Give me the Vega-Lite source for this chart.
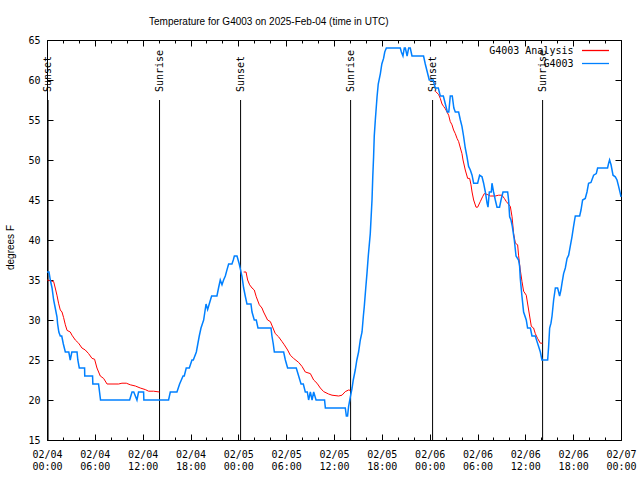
{
  "$schema": "https://vega.github.io/schema/vega-lite/v6.json",
  "width": 574,
  "height": 400,
  "autosize": "none",
  "padding": {"left": 47, "top": 40, "right": 19, "bottom": 40},
  "background": "white",
  "title": {"text": "Temperature for G4003 on 2025-Feb-04 (time in UTC)", "anchor": "start", "frame": "group", "dx": 102, "offset": 0, "font": "Liberation Sans", "fontSize": 10, "fontWeight": "normal", "color": "black", "baseline": "alphabetic"},
  "config": {
    "view": {"stroke": "black", "strokeWidth": 1},
    "axis": {"grid": false, "domain": false, "ticks": true, "tickOpacity": 1, "zindex": 1, "tickColor": "black", "tickWidth": 1, "labelColor": "black", "labelFont": "DejaVu Sans Mono", "labelFontSize": 10, "titleFont": "Liberation Sans", "titleFontSize": 10, "titleFontWeight": "normal", "titleColor": "black"}
  },
  "datasets": {
    "sun": [
      {"time": "2025-02-04T00:08:00Z", "event": "Sunset"},
      {"time": "2025-02-04T14:07:00Z", "event": "Sunrise"},
      {"time": "2025-02-05T00:17:00Z", "event": "Sunset"},
      {"time": "2025-02-05T14:05:00Z", "event": "Sunrise"},
      {"time": "2025-02-06T00:22:00Z", "event": "Sunset"},
      {"time": "2025-02-06T14:10:00Z", "event": "Sunrise"}
    ],
    "ana": [
      {"time": "2025-02-04T00:02:00Z", "temp": 35, "series": "G4003 Analysis", "seg": "n1"},
      {"time": "2025-02-04T00:50:00Z", "temp": 34.8, "series": "G4003 Analysis", "seg": "n1"},
      {"time": "2025-02-04T01:02:00Z", "temp": 34, "series": "G4003 Analysis", "seg": "n1"},
      {"time": "2025-02-04T01:15:00Z", "temp": 33.1, "series": "G4003 Analysis", "seg": "n1"},
      {"time": "2025-02-04T01:27:00Z", "temp": 32.1, "series": "G4003 Analysis", "seg": "n1"},
      {"time": "2025-02-04T01:40:00Z", "temp": 31.25, "series": "G4003 Analysis", "seg": "n1"},
      {"time": "2025-02-04T01:53:00Z", "temp": 31, "series": "G4003 Analysis", "seg": "n1"},
      {"time": "2025-02-04T02:05:00Z", "temp": 30.3, "series": "G4003 Analysis", "seg": "n1"},
      {"time": "2025-02-04T02:18:00Z", "temp": 29.4, "series": "G4003 Analysis", "seg": "n1"},
      {"time": "2025-02-04T02:31:00Z", "temp": 28.7, "series": "G4003 Analysis", "seg": "n1"},
      {"time": "2025-02-04T02:55:00Z", "temp": 28.5, "series": "G4003 Analysis", "seg": "n1"},
      {"time": "2025-02-04T03:08:00Z", "temp": 28.1, "series": "G4003 Analysis", "seg": "n1"},
      {"time": "2025-02-04T03:33:00Z", "temp": 27.5, "series": "G4003 Analysis", "seg": "n1"},
      {"time": "2025-02-04T03:58:00Z", "temp": 27.1, "series": "G4003 Analysis", "seg": "n1"},
      {"time": "2025-02-04T04:23:00Z", "temp": 26.5, "series": "G4003 Analysis", "seg": "n1"},
      {"time": "2025-02-04T04:48:00Z", "temp": 26.25, "series": "G4003 Analysis", "seg": "n1"},
      {"time": "2025-02-04T05:13:00Z", "temp": 25.8, "series": "G4003 Analysis", "seg": "n1"},
      {"time": "2025-02-04T05:39:00Z", "temp": 25.2, "series": "G4003 Analysis", "seg": "n1"},
      {"time": "2025-02-04T05:58:00Z", "temp": 25.1, "series": "G4003 Analysis", "seg": "n1"},
      {"time": "2025-02-04T06:16:00Z", "temp": 24, "series": "G4003 Analysis", "seg": "n1"},
      {"time": "2025-02-04T06:41:00Z", "temp": 23, "series": "G4003 Analysis", "seg": "n1"},
      {"time": "2025-02-04T07:06:00Z", "temp": 22.7, "series": "G4003 Analysis", "seg": "n1"},
      {"time": "2025-02-04T07:32:00Z", "temp": 22, "series": "G4003 Analysis", "seg": "n1"},
      {"time": "2025-02-04T08:59:00Z", "temp": 22, "series": "G4003 Analysis", "seg": "n1"},
      {"time": "2025-02-04T09:24:00Z", "temp": 22.1, "series": "G4003 Analysis", "seg": "n1"},
      {"time": "2025-02-04T09:57:00Z", "temp": 22.1, "series": "G4003 Analysis", "seg": "n1"},
      {"time": "2025-02-04T10:27:00Z", "temp": 21.9, "series": "G4003 Analysis", "seg": "n1"},
      {"time": "2025-02-04T11:05:00Z", "temp": 21.75, "series": "G4003 Analysis", "seg": "n1"},
      {"time": "2025-02-04T11:42:00Z", "temp": 21.5, "series": "G4003 Analysis", "seg": "n1"},
      {"time": "2025-02-04T12:20:00Z", "temp": 21.3, "series": "G4003 Analysis", "seg": "n1"},
      {"time": "2025-02-04T12:45:00Z", "temp": 21.1, "series": "G4003 Analysis", "seg": "n1"},
      {"time": "2025-02-04T13:22:00Z", "temp": 21.1, "series": "G4003 Analysis", "seg": "n1"},
      {"time": "2025-02-04T14:07:00Z", "temp": 21, "series": "G4003 Analysis", "seg": "n1"},
      {"time": "2025-02-05T00:40:00Z", "temp": 36, "series": "G4003 Analysis", "seg": "n2"},
      {"time": "2025-02-05T00:58:00Z", "temp": 36, "series": "G4003 Analysis", "seg": "n2"},
      {"time": "2025-02-05T01:10:00Z", "temp": 35, "series": "G4003 Analysis", "seg": "n2"},
      {"time": "2025-02-05T01:25:00Z", "temp": 34.4, "series": "G4003 Analysis", "seg": "n2"},
      {"time": "2025-02-05T01:43:00Z", "temp": 34, "series": "G4003 Analysis", "seg": "n2"},
      {"time": "2025-02-05T02:00:00Z", "temp": 33.75, "series": "G4003 Analysis", "seg": "n2"},
      {"time": "2025-02-05T02:15:00Z", "temp": 32.9, "series": "G4003 Analysis", "seg": "n2"},
      {"time": "2025-02-05T02:38:00Z", "temp": 31.9, "series": "G4003 Analysis", "seg": "n2"},
      {"time": "2025-02-05T02:58:00Z", "temp": 31.5, "series": "G4003 Analysis", "seg": "n2"},
      {"time": "2025-02-05T03:10:00Z", "temp": 31, "series": "G4003 Analysis", "seg": "n2"},
      {"time": "2025-02-05T03:40:00Z", "temp": 30, "series": "G4003 Analysis", "seg": "n2"},
      {"time": "2025-02-05T04:01:00Z", "temp": 29.8, "series": "G4003 Analysis", "seg": "n2"},
      {"time": "2025-02-05T04:21:00Z", "temp": 29, "series": "G4003 Analysis", "seg": "n2"},
      {"time": "2025-02-05T04:38:00Z", "temp": 28.3, "series": "G4003 Analysis", "seg": "n2"},
      {"time": "2025-02-05T05:03:00Z", "temp": 27.9, "series": "G4003 Analysis", "seg": "n2"},
      {"time": "2025-02-05T05:29:00Z", "temp": 27.3, "series": "G4003 Analysis", "seg": "n2"},
      {"time": "2025-02-05T05:46:00Z", "temp": 26.9, "series": "G4003 Analysis", "seg": "n2"},
      {"time": "2025-02-05T06:11:00Z", "temp": 26.25, "series": "G4003 Analysis", "seg": "n2"},
      {"time": "2025-02-05T06:31:00Z", "temp": 25.6, "series": "G4003 Analysis", "seg": "n2"},
      {"time": "2025-02-05T06:56:00Z", "temp": 25.2, "series": "G4003 Analysis", "seg": "n2"},
      {"time": "2025-02-05T07:34:00Z", "temp": 24.7, "series": "G4003 Analysis", "seg": "n2"},
      {"time": "2025-02-05T07:59:00Z", "temp": 24.2, "series": "G4003 Analysis", "seg": "n2"},
      {"time": "2025-02-05T08:24:00Z", "temp": 23.5, "series": "G4003 Analysis", "seg": "n2"},
      {"time": "2025-02-05T09:02:00Z", "temp": 23.3, "series": "G4003 Analysis", "seg": "n2"},
      {"time": "2025-02-05T09:27:00Z", "temp": 22.5, "series": "G4003 Analysis", "seg": "n2"},
      {"time": "2025-02-05T09:52:00Z", "temp": 22.1, "series": "G4003 Analysis", "seg": "n2"},
      {"time": "2025-02-05T10:17:00Z", "temp": 21.5, "series": "G4003 Analysis", "seg": "n2"},
      {"time": "2025-02-05T10:42:00Z", "temp": 21.05, "series": "G4003 Analysis", "seg": "n2"},
      {"time": "2025-02-05T11:19:00Z", "temp": 20.75, "series": "G4003 Analysis", "seg": "n2"},
      {"time": "2025-02-05T11:45:00Z", "temp": 20.6, "series": "G4003 Analysis", "seg": "n2"},
      {"time": "2025-02-05T12:35:00Z", "temp": 20.5, "series": "G4003 Analysis", "seg": "n2"},
      {"time": "2025-02-05T13:00:00Z", "temp": 20.6, "series": "G4003 Analysis", "seg": "n2"},
      {"time": "2025-02-05T13:25:00Z", "temp": 21.05, "series": "G4003 Analysis", "seg": "n2"},
      {"time": "2025-02-05T13:50:00Z", "temp": 21.25, "series": "G4003 Analysis", "seg": "n2"},
      {"time": "2025-02-05T14:03:00Z", "temp": 21.2, "series": "G4003 Analysis", "seg": "n2"},
      {"time": "2025-02-06T00:42:00Z", "temp": 58.6, "series": "G4003 Analysis", "seg": "n3"},
      {"time": "2025-02-06T01:07:00Z", "temp": 58.2, "series": "G4003 Analysis", "seg": "n3"},
      {"time": "2025-02-06T01:20:00Z", "temp": 57.7, "series": "G4003 Analysis", "seg": "n3"},
      {"time": "2025-02-06T01:33:00Z", "temp": 57, "series": "G4003 Analysis", "seg": "n3"},
      {"time": "2025-02-06T01:45:00Z", "temp": 56.7, "series": "G4003 Analysis", "seg": "n3"},
      {"time": "2025-02-06T01:58:00Z", "temp": 56.4, "series": "G4003 Analysis", "seg": "n3"},
      {"time": "2025-02-06T02:23:00Z", "temp": 55.6, "series": "G4003 Analysis", "seg": "n3"},
      {"time": "2025-02-06T02:35:00Z", "temp": 54.8, "series": "G4003 Analysis", "seg": "n3"},
      {"time": "2025-02-06T02:48:00Z", "temp": 54.4, "series": "G4003 Analysis", "seg": "n3"},
      {"time": "2025-02-06T03:00:00Z", "temp": 53.75, "series": "G4003 Analysis", "seg": "n3"},
      {"time": "2025-02-06T03:13:00Z", "temp": 53.3, "series": "G4003 Analysis", "seg": "n3"},
      {"time": "2025-02-06T03:26:00Z", "temp": 52.7, "series": "G4003 Analysis", "seg": "n3"},
      {"time": "2025-02-06T03:38:00Z", "temp": 52.3, "series": "G4003 Analysis", "seg": "n3"},
      {"time": "2025-02-06T03:51:00Z", "temp": 51.5, "series": "G4003 Analysis", "seg": "n3"},
      {"time": "2025-02-06T04:03:00Z", "temp": 50.8, "series": "G4003 Analysis", "seg": "n3"},
      {"time": "2025-02-06T04:11:00Z", "temp": 50, "series": "G4003 Analysis", "seg": "n3"},
      {"time": "2025-02-06T04:28:00Z", "temp": 48.75, "series": "G4003 Analysis", "seg": "n3"},
      {"time": "2025-02-06T04:46:00Z", "temp": 47.7, "series": "G4003 Analysis", "seg": "n3"},
      {"time": "2025-02-06T05:01:00Z", "temp": 47.7, "series": "G4003 Analysis", "seg": "n3"},
      {"time": "2025-02-06T05:11:00Z", "temp": 46.9, "series": "G4003 Analysis", "seg": "n3"},
      {"time": "2025-02-06T05:19:00Z", "temp": 46, "series": "G4003 Analysis", "seg": "n3"},
      {"time": "2025-02-06T05:31:00Z", "temp": 45, "series": "G4003 Analysis", "seg": "n3"},
      {"time": "2025-02-06T05:49:00Z", "temp": 44.1, "series": "G4003 Analysis", "seg": "n3"},
      {"time": "2025-02-06T06:01:00Z", "temp": 44.1, "series": "G4003 Analysis", "seg": "n3"},
      {"time": "2025-02-06T06:21:00Z", "temp": 44.8, "series": "G4003 Analysis", "seg": "n3"},
      {"time": "2025-02-06T06:38:00Z", "temp": 45.4, "series": "G4003 Analysis", "seg": "n3"},
      {"time": "2025-02-06T06:51:00Z", "temp": 45.8, "series": "G4003 Analysis", "seg": "n3"},
      {"time": "2025-02-06T07:12:00Z", "temp": 45.7, "series": "G4003 Analysis", "seg": "n3"},
      {"time": "2025-02-06T07:36:00Z", "temp": 45.5, "series": "G4003 Analysis", "seg": "n3"},
      {"time": "2025-02-06T08:14:00Z", "temp": 45.5, "series": "G4003 Analysis", "seg": "n3"},
      {"time": "2025-02-06T08:39:00Z", "temp": 45.6, "series": "G4003 Analysis", "seg": "n3"},
      {"time": "2025-02-06T09:04:00Z", "temp": 45.6, "series": "G4003 Analysis", "seg": "n3"},
      {"time": "2025-02-06T09:22:00Z", "temp": 45.2, "series": "G4003 Analysis", "seg": "n3"},
      {"time": "2025-02-06T09:37:00Z", "temp": 44.8, "series": "G4003 Analysis", "seg": "n3"},
      {"time": "2025-02-06T09:47:00Z", "temp": 44.6, "series": "G4003 Analysis", "seg": "n3"},
      {"time": "2025-02-06T10:07:00Z", "temp": 44.2, "series": "G4003 Analysis", "seg": "n3"},
      {"time": "2025-02-06T10:20:00Z", "temp": 42.9, "series": "G4003 Analysis", "seg": "n3"},
      {"time": "2025-02-06T10:32:00Z", "temp": 40.8, "series": "G4003 Analysis", "seg": "n3"},
      {"time": "2025-02-06T10:45:00Z", "temp": 39.6, "series": "G4003 Analysis", "seg": "n3"},
      {"time": "2025-02-06T11:02:00Z", "temp": 39.4, "series": "G4003 Analysis", "seg": "n3"},
      {"time": "2025-02-06T11:09:00Z", "temp": 38.1, "series": "G4003 Analysis", "seg": "n3"},
      {"time": "2025-02-06T11:22:00Z", "temp": 36.25, "series": "G4003 Analysis", "seg": "n3"},
      {"time": "2025-02-06T11:35:00Z", "temp": 34.8, "series": "G4003 Analysis", "seg": "n3"},
      {"time": "2025-02-06T11:47:00Z", "temp": 33.6, "series": "G4003 Analysis", "seg": "n3"},
      {"time": "2025-02-06T12:07:00Z", "temp": 33.1, "series": "G4003 Analysis", "seg": "n3"},
      {"time": "2025-02-06T12:25:00Z", "temp": 31.25, "series": "G4003 Analysis", "seg": "n3"},
      {"time": "2025-02-06T12:45:00Z", "temp": 29.2, "series": "G4003 Analysis", "seg": "n3"},
      {"time": "2025-02-06T13:02:00Z", "temp": 29, "series": "G4003 Analysis", "seg": "n3"},
      {"time": "2025-02-06T13:15:00Z", "temp": 28.3, "series": "G4003 Analysis", "seg": "n3"},
      {"time": "2025-02-06T13:32:00Z", "temp": 27.7, "series": "G4003 Analysis", "seg": "n3"},
      {"time": "2025-02-06T13:53:00Z", "temp": 27.1, "series": "G4003 Analysis", "seg": "n3"},
      {"time": "2025-02-06T14:10:00Z", "temp": 27.1, "series": "G4003 Analysis", "seg": "n3"}
    ],
    "obs": [
      {"time": "2025-02-04T00:00:00Z", "temp": 36, "series": "G4003"},
      {"time": "2025-02-04T00:15:00Z", "temp": 36, "series": "G4003"},
      {"time": "2025-02-04T00:25:00Z", "temp": 35, "series": "G4003"},
      {"time": "2025-02-04T00:38:00Z", "temp": 34, "series": "G4003"},
      {"time": "2025-02-04T00:50:00Z", "temp": 32.5, "series": "G4003"},
      {"time": "2025-02-04T01:02:00Z", "temp": 31.5, "series": "G4003"},
      {"time": "2025-02-04T01:15:00Z", "temp": 30.4, "series": "G4003"},
      {"time": "2025-02-04T01:20:00Z", "temp": 29.5, "series": "G4003"},
      {"time": "2025-02-04T01:29:00Z", "temp": 28.5, "series": "G4003"},
      {"time": "2025-02-04T01:40:00Z", "temp": 28, "series": "G4003"},
      {"time": "2025-02-04T01:51:00Z", "temp": 28, "series": "G4003"},
      {"time": "2025-02-04T02:03:00Z", "temp": 27, "series": "G4003"},
      {"time": "2025-02-04T02:18:00Z", "temp": 26, "series": "G4003"},
      {"time": "2025-02-04T02:44:00Z", "temp": 26, "series": "G4003"},
      {"time": "2025-02-04T02:55:00Z", "temp": 25, "series": "G4003"},
      {"time": "2025-02-04T03:07:00Z", "temp": 26, "series": "G4003"},
      {"time": "2025-02-04T03:46:00Z", "temp": 26, "series": "G4003"},
      {"time": "2025-02-04T03:52:00Z", "temp": 25, "series": "G4003"},
      {"time": "2025-02-04T04:03:00Z", "temp": 24, "series": "G4003"},
      {"time": "2025-02-04T04:43:00Z", "temp": 24, "series": "G4003"},
      {"time": "2025-02-04T04:44:00Z", "temp": 23, "series": "G4003"},
      {"time": "2025-02-04T05:43:00Z", "temp": 23, "series": "G4003"},
      {"time": "2025-02-04T05:45:00Z", "temp": 22, "series": "G4003"},
      {"time": "2025-02-04T06:28:00Z", "temp": 22, "series": "G4003"},
      {"time": "2025-02-04T06:43:00Z", "temp": 20, "series": "G4003"},
      {"time": "2025-02-04T10:22:00Z", "temp": 20, "series": "G4003"},
      {"time": "2025-02-04T10:40:00Z", "temp": 21, "series": "G4003"},
      {"time": "2025-02-04T10:53:00Z", "temp": 21, "series": "G4003"},
      {"time": "2025-02-04T11:17:00Z", "temp": 20, "series": "G4003"},
      {"time": "2025-02-04T11:29:00Z", "temp": 21, "series": "G4003"},
      {"time": "2025-02-04T12:07:00Z", "temp": 21, "series": "G4003"},
      {"time": "2025-02-04T12:09:00Z", "temp": 20, "series": "G4003"},
      {"time": "2025-02-04T15:15:00Z", "temp": 20, "series": "G4003"},
      {"time": "2025-02-04T15:28:00Z", "temp": 21, "series": "G4003"},
      {"time": "2025-02-04T16:18:00Z", "temp": 21, "series": "G4003"},
      {"time": "2025-02-04T16:38:00Z", "temp": 22, "series": "G4003"},
      {"time": "2025-02-04T16:51:00Z", "temp": 22.5, "series": "G4003"},
      {"time": "2025-02-04T17:04:00Z", "temp": 23, "series": "G4003"},
      {"time": "2025-02-04T17:13:00Z", "temp": 23, "series": "G4003"},
      {"time": "2025-02-04T17:28:00Z", "temp": 24, "series": "G4003"},
      {"time": "2025-02-04T17:51:00Z", "temp": 24, "series": "G4003"},
      {"time": "2025-02-04T18:11:00Z", "temp": 25, "series": "G4003"},
      {"time": "2025-02-04T18:21:00Z", "temp": 25, "series": "G4003"},
      {"time": "2025-02-04T18:44:00Z", "temp": 26, "series": "G4003"},
      {"time": "2025-02-04T18:55:00Z", "temp": 27, "series": "G4003"},
      {"time": "2025-02-04T19:06:00Z", "temp": 28, "series": "G4003"},
      {"time": "2025-02-04T19:19:00Z", "temp": 29, "series": "G4003"},
      {"time": "2025-02-04T19:29:00Z", "temp": 29.5, "series": "G4003"},
      {"time": "2025-02-04T19:39:00Z", "temp": 30, "series": "G4003"},
      {"time": "2025-02-04T19:48:00Z", "temp": 31, "series": "G4003"},
      {"time": "2025-02-04T19:57:00Z", "temp": 32, "series": "G4003"},
      {"time": "2025-02-04T20:09:00Z", "temp": 31.3, "series": "G4003"},
      {"time": "2025-02-04T20:21:00Z", "temp": 32, "series": "G4003"},
      {"time": "2025-02-04T20:39:00Z", "temp": 33, "series": "G4003"},
      {"time": "2025-02-04T21:19:00Z", "temp": 33, "series": "G4003"},
      {"time": "2025-02-04T21:31:00Z", "temp": 34, "series": "G4003"},
      {"time": "2025-02-04T21:44:00Z", "temp": 35, "series": "G4003"},
      {"time": "2025-02-04T21:57:00Z", "temp": 34.4, "series": "G4003"},
      {"time": "2025-02-04T22:09:00Z", "temp": 35, "series": "G4003"},
      {"time": "2025-02-04T22:22:00Z", "temp": 35.5, "series": "G4003"},
      {"time": "2025-02-04T22:35:00Z", "temp": 36.3, "series": "G4003"},
      {"time": "2025-02-04T22:47:00Z", "temp": 37, "series": "G4003"},
      {"time": "2025-02-04T23:12:00Z", "temp": 37, "series": "G4003"},
      {"time": "2025-02-04T23:22:00Z", "temp": 37.5, "series": "G4003"},
      {"time": "2025-02-04T23:30:00Z", "temp": 38, "series": "G4003"},
      {"time": "2025-02-04T23:50:00Z", "temp": 38, "series": "G4003"},
      {"time": "2025-02-05T00:07:00Z", "temp": 37, "series": "G4003"},
      {"time": "2025-02-05T00:15:00Z", "temp": 36.4, "series": "G4003"},
      {"time": "2025-02-05T00:28:00Z", "temp": 35.4, "series": "G4003"},
      {"time": "2025-02-05T00:40:00Z", "temp": 34, "series": "G4003"},
      {"time": "2025-02-05T00:52:00Z", "temp": 33, "series": "G4003"},
      {"time": "2025-02-05T01:05:00Z", "temp": 32, "series": "G4003"},
      {"time": "2025-02-05T01:35:00Z", "temp": 32, "series": "G4003"},
      {"time": "2025-02-05T01:43:00Z", "temp": 31, "series": "G4003"},
      {"time": "2025-02-05T02:00:00Z", "temp": 30, "series": "G4003"},
      {"time": "2025-02-05T02:15:00Z", "temp": 30, "series": "G4003"},
      {"time": "2025-02-05T02:28:00Z", "temp": 29, "series": "G4003"},
      {"time": "2025-02-05T04:06:00Z", "temp": 29, "series": "G4003"},
      {"time": "2025-02-05T04:13:00Z", "temp": 28, "series": "G4003"},
      {"time": "2025-02-05T04:23:00Z", "temp": 27, "series": "G4003"},
      {"time": "2025-02-05T04:31:00Z", "temp": 26, "series": "G4003"},
      {"time": "2025-02-05T05:41:00Z", "temp": 26, "series": "G4003"},
      {"time": "2025-02-05T05:54:00Z", "temp": 25, "series": "G4003"},
      {"time": "2025-02-05T06:11:00Z", "temp": 24, "series": "G4003"},
      {"time": "2025-02-05T07:16:00Z", "temp": 24, "series": "G4003"},
      {"time": "2025-02-05T07:34:00Z", "temp": 23, "series": "G4003"},
      {"time": "2025-02-05T07:52:00Z", "temp": 22, "series": "G4003"},
      {"time": "2025-02-05T08:09:00Z", "temp": 22, "series": "G4003"},
      {"time": "2025-02-05T08:24:00Z", "temp": 21, "series": "G4003"},
      {"time": "2025-02-05T08:39:00Z", "temp": 21, "series": "G4003"},
      {"time": "2025-02-05T08:49:00Z", "temp": 20, "series": "G4003"},
      {"time": "2025-02-05T09:02:00Z", "temp": 21, "series": "G4003"},
      {"time": "2025-02-05T09:15:00Z", "temp": 20, "series": "G4003"},
      {"time": "2025-02-05T09:27:00Z", "temp": 21, "series": "G4003"},
      {"time": "2025-02-05T09:45:00Z", "temp": 20, "series": "G4003"},
      {"time": "2025-02-05T10:49:00Z", "temp": 20, "series": "G4003"},
      {"time": "2025-02-05T10:55:00Z", "temp": 19, "series": "G4003"},
      {"time": "2025-02-05T13:25:00Z", "temp": 19, "series": "G4003"},
      {"time": "2025-02-05T13:33:00Z", "temp": 18, "series": "G4003"},
      {"time": "2025-02-05T13:42:00Z", "temp": 18, "series": "G4003"},
      {"time": "2025-02-05T13:50:00Z", "temp": 19.2, "series": "G4003"},
      {"time": "2025-02-05T14:03:00Z", "temp": 20.4, "series": "G4003"},
      {"time": "2025-02-05T14:16:00Z", "temp": 21.5, "series": "G4003"},
      {"time": "2025-02-05T14:25:00Z", "temp": 22.5, "series": "G4003"},
      {"time": "2025-02-05T14:40:00Z", "temp": 23.75, "series": "G4003"},
      {"time": "2025-02-05T14:52:00Z", "temp": 25, "series": "G4003"},
      {"time": "2025-02-05T15:05:00Z", "temp": 26, "series": "G4003"},
      {"time": "2025-02-05T15:18:00Z", "temp": 27.5, "series": "G4003"},
      {"time": "2025-02-05T15:31:00Z", "temp": 28.5, "series": "G4003"},
      {"time": "2025-02-05T15:41:00Z", "temp": 30.5, "series": "G4003"},
      {"time": "2025-02-05T15:48:00Z", "temp": 31.7, "series": "G4003"},
      {"time": "2025-02-05T15:59:00Z", "temp": 34, "series": "G4003"},
      {"time": "2025-02-05T16:08:00Z", "temp": 35.8, "series": "G4003"},
      {"time": "2025-02-05T16:18:00Z", "temp": 38, "series": "G4003"},
      {"time": "2025-02-05T16:33:00Z", "temp": 40.8, "series": "G4003"},
      {"time": "2025-02-05T16:46:00Z", "temp": 45, "series": "G4003"},
      {"time": "2025-02-05T16:52:00Z", "temp": 48, "series": "G4003"},
      {"time": "2025-02-05T16:58:00Z", "temp": 50.4, "series": "G4003"},
      {"time": "2025-02-05T17:03:00Z", "temp": 53, "series": "G4003"},
      {"time": "2025-02-05T17:11:00Z", "temp": 55, "series": "G4003"},
      {"time": "2025-02-05T17:24:00Z", "temp": 57.9, "series": "G4003"},
      {"time": "2025-02-05T17:33:00Z", "temp": 59.5, "series": "G4003"},
      {"time": "2025-02-05T17:49:00Z", "temp": 60.8, "series": "G4003"},
      {"time": "2025-02-05T18:00:00Z", "temp": 62, "series": "G4003"},
      {"time": "2025-02-05T18:13:00Z", "temp": 62.7, "series": "G4003"},
      {"time": "2025-02-05T18:22:00Z", "temp": 63.5, "series": "G4003"},
      {"time": "2025-02-05T18:34:00Z", "temp": 64, "series": "G4003"},
      {"time": "2025-02-05T20:19:00Z", "temp": 64, "series": "G4003"},
      {"time": "2025-02-05T20:27:00Z", "temp": 63.5, "series": "G4003"},
      {"time": "2025-02-05T20:39:00Z", "temp": 63, "series": "G4003"},
      {"time": "2025-02-05T20:49:00Z", "temp": 64, "series": "G4003"},
      {"time": "2025-02-05T20:57:00Z", "temp": 64, "series": "G4003"},
      {"time": "2025-02-05T21:10:00Z", "temp": 63, "series": "G4003"},
      {"time": "2025-02-05T21:22:00Z", "temp": 64, "series": "G4003"},
      {"time": "2025-02-05T21:34:00Z", "temp": 64, "series": "G4003"},
      {"time": "2025-02-05T21:47:00Z", "temp": 63, "series": "G4003"},
      {"time": "2025-02-05T23:14:00Z", "temp": 63, "series": "G4003"},
      {"time": "2025-02-05T23:27:00Z", "temp": 62, "series": "G4003"},
      {"time": "2025-02-05T23:42:00Z", "temp": 61, "series": "G4003"},
      {"time": "2025-02-05T23:57:00Z", "temp": 60, "series": "G4003"},
      {"time": "2025-02-06T00:27:00Z", "temp": 60, "series": "G4003"},
      {"time": "2025-02-06T00:42:00Z", "temp": 59, "series": "G4003"},
      {"time": "2025-02-06T01:05:00Z", "temp": 59, "series": "G4003"},
      {"time": "2025-02-06T01:20:00Z", "temp": 58, "series": "G4003"},
      {"time": "2025-02-06T01:43:00Z", "temp": 58, "series": "G4003"},
      {"time": "2025-02-06T01:58:00Z", "temp": 57, "series": "G4003"},
      {"time": "2025-02-06T02:13:00Z", "temp": 56, "series": "G4003"},
      {"time": "2025-02-06T02:24:00Z", "temp": 56, "series": "G4003"},
      {"time": "2025-02-06T02:35:00Z", "temp": 58, "series": "G4003"},
      {"time": "2025-02-06T02:50:00Z", "temp": 58, "series": "G4003"},
      {"time": "2025-02-06T03:02:00Z", "temp": 56.5, "series": "G4003"},
      {"time": "2025-02-06T03:13:00Z", "temp": 56, "series": "G4003"},
      {"time": "2025-02-06T03:38:00Z", "temp": 56, "series": "G4003"},
      {"time": "2025-02-06T03:51:00Z", "temp": 55, "series": "G4003"},
      {"time": "2025-02-06T04:03:00Z", "temp": 54.2, "series": "G4003"},
      {"time": "2025-02-06T04:15:00Z", "temp": 53, "series": "G4003"},
      {"time": "2025-02-06T04:28:00Z", "temp": 51.5, "series": "G4003"},
      {"time": "2025-02-06T04:41:00Z", "temp": 50.4, "series": "G4003"},
      {"time": "2025-02-06T04:53:00Z", "temp": 49.2, "series": "G4003"},
      {"time": "2025-02-06T05:06:00Z", "temp": 48.75, "series": "G4003"},
      {"time": "2025-02-06T05:19:00Z", "temp": 48.1, "series": "G4003"},
      {"time": "2025-02-06T05:31:00Z", "temp": 47.1, "series": "G4003"},
      {"time": "2025-02-06T06:01:00Z", "temp": 47.1, "series": "G4003"},
      {"time": "2025-02-06T06:16:00Z", "temp": 48.1, "series": "G4003"},
      {"time": "2025-02-06T06:34:00Z", "temp": 47.9, "series": "G4003"},
      {"time": "2025-02-06T06:46:00Z", "temp": 47.1, "series": "G4003"},
      {"time": "2025-02-06T06:59:00Z", "temp": 46, "series": "G4003"},
      {"time": "2025-02-06T07:12:00Z", "temp": 44.6, "series": "G4003"},
      {"time": "2025-02-06T07:19:00Z", "temp": 44.1, "series": "G4003"},
      {"time": "2025-02-06T07:29:00Z", "temp": 46, "series": "G4003"},
      {"time": "2025-02-06T07:44:00Z", "temp": 46, "series": "G4003"},
      {"time": "2025-02-06T07:49:00Z", "temp": 47.1, "series": "G4003"},
      {"time": "2025-02-06T08:01:00Z", "temp": 46, "series": "G4003"},
      {"time": "2025-02-06T08:14:00Z", "temp": 45, "series": "G4003"},
      {"time": "2025-02-06T08:27:00Z", "temp": 44.1, "series": "G4003"},
      {"time": "2025-02-06T08:46:00Z", "temp": 44.1, "series": "G4003"},
      {"time": "2025-02-06T08:57:00Z", "temp": 45, "series": "G4003"},
      {"time": "2025-02-06T09:12:00Z", "temp": 46, "series": "G4003"},
      {"time": "2025-02-06T09:47:00Z", "temp": 46, "series": "G4003"},
      {"time": "2025-02-06T09:54:00Z", "temp": 45, "series": "G4003"},
      {"time": "2025-02-06T10:02:00Z", "temp": 42.9, "series": "G4003"},
      {"time": "2025-02-06T10:12:00Z", "temp": 42.5, "series": "G4003"},
      {"time": "2025-02-06T10:22:00Z", "temp": 41.7, "series": "G4003"},
      {"time": "2025-02-06T10:37:00Z", "temp": 40, "series": "G4003"},
      {"time": "2025-02-06T10:50:00Z", "temp": 38, "series": "G4003"},
      {"time": "2025-02-06T11:09:00Z", "temp": 37.5, "series": "G4003"},
      {"time": "2025-02-06T11:17:00Z", "temp": 36.7, "series": "G4003"},
      {"time": "2025-02-06T11:22:00Z", "temp": 35.2, "series": "G4003"},
      {"time": "2025-02-06T11:30:00Z", "temp": 33.75, "series": "G4003"},
      {"time": "2025-02-06T11:35:00Z", "temp": 32.9, "series": "G4003"},
      {"time": "2025-02-06T11:47:00Z", "temp": 31, "series": "G4003"},
      {"time": "2025-02-06T12:07:00Z", "temp": 30, "series": "G4003"},
      {"time": "2025-02-06T12:17:00Z", "temp": 29, "series": "G4003"},
      {"time": "2025-02-06T12:38:00Z", "temp": 29, "series": "G4003"},
      {"time": "2025-02-06T12:50:00Z", "temp": 28, "series": "G4003"},
      {"time": "2025-02-06T13:15:00Z", "temp": 28, "series": "G4003"},
      {"time": "2025-02-06T13:28:00Z", "temp": 27.3, "series": "G4003"},
      {"time": "2025-02-06T13:40:00Z", "temp": 26.7, "series": "G4003"},
      {"time": "2025-02-06T13:53:00Z", "temp": 26, "series": "G4003"},
      {"time": "2025-02-06T14:05:00Z", "temp": 25, "series": "G4003"},
      {"time": "2025-02-06T14:48:00Z", "temp": 25, "series": "G4003"},
      {"time": "2025-02-06T14:55:00Z", "temp": 26.6, "series": "G4003"},
      {"time": "2025-02-06T15:03:00Z", "temp": 29, "series": "G4003"},
      {"time": "2025-02-06T15:13:00Z", "temp": 29.6, "series": "G4003"},
      {"time": "2025-02-06T15:21:00Z", "temp": 30.5, "series": "G4003"},
      {"time": "2025-02-06T15:33:00Z", "temp": 32.5, "series": "G4003"},
      {"time": "2025-02-06T15:46:00Z", "temp": 34, "series": "G4003"},
      {"time": "2025-02-06T16:03:00Z", "temp": 34, "series": "G4003"},
      {"time": "2025-02-06T16:18:00Z", "temp": 33, "series": "G4003"},
      {"time": "2025-02-06T16:28:00Z", "temp": 33.75, "series": "G4003"},
      {"time": "2025-02-06T16:36:00Z", "temp": 34.6, "series": "G4003"},
      {"time": "2025-02-06T16:48:00Z", "temp": 35.8, "series": "G4003"},
      {"time": "2025-02-06T17:01:00Z", "temp": 36.5, "series": "G4003"},
      {"time": "2025-02-06T17:14:00Z", "temp": 37.7, "series": "G4003"},
      {"time": "2025-02-06T17:26:00Z", "temp": 38.1, "series": "G4003"},
      {"time": "2025-02-06T17:38:00Z", "temp": 39.2, "series": "G4003"},
      {"time": "2025-02-06T17:51:00Z", "temp": 40.4, "series": "G4003"},
      {"time": "2025-02-06T18:03:00Z", "temp": 41.7, "series": "G4003"},
      {"time": "2025-02-06T18:16:00Z", "temp": 43, "series": "G4003"},
      {"time": "2025-02-06T18:49:00Z", "temp": 43, "series": "G4003"},
      {"time": "2025-02-06T18:59:00Z", "temp": 43.75, "series": "G4003"},
      {"time": "2025-02-06T19:11:00Z", "temp": 45, "series": "G4003"},
      {"time": "2025-02-06T19:31:00Z", "temp": 45.2, "series": "G4003"},
      {"time": "2025-02-06T19:44:00Z", "temp": 46, "series": "G4003"},
      {"time": "2025-02-06T19:56:00Z", "temp": 47.1, "series": "G4003"},
      {"time": "2025-02-06T20:14:00Z", "temp": 47.2, "series": "G4003"},
      {"time": "2025-02-06T20:34:00Z", "temp": 48.1, "series": "G4003"},
      {"time": "2025-02-06T20:54:00Z", "temp": 48.3, "series": "G4003"},
      {"time": "2025-02-06T21:04:00Z", "temp": 49, "series": "G4003"},
      {"time": "2025-02-06T22:19:00Z", "temp": 49, "series": "G4003"},
      {"time": "2025-02-06T22:27:00Z", "temp": 49.6, "series": "G4003"},
      {"time": "2025-02-06T22:34:00Z", "temp": 50, "series": "G4003"},
      {"time": "2025-02-06T22:45:00Z", "temp": 49.4, "series": "G4003"},
      {"time": "2025-02-06T23:00:00Z", "temp": 48.1, "series": "G4003"},
      {"time": "2025-02-06T23:17:00Z", "temp": 47.9, "series": "G4003"},
      {"time": "2025-02-06T23:30:00Z", "temp": 47.5, "series": "G4003"},
      {"time": "2025-02-06T23:42:00Z", "temp": 46.7, "series": "G4003"},
      {"time": "2025-02-06T23:55:00Z", "temp": 45.8, "series": "G4003"},
      {"time": "2025-02-07T00:00:00Z", "temp": 45.4, "series": "G4003"}
    ]
  },
  "layer": [
    {
      "data": {"name": "sun"},
      "mark": {"type": "rule", "color": "black", "strokeWidth": 1},
      "encoding": {
        "x": {"field": "time", "type": "temporal",
          "scale": {"type": "utc", "domain": [1738627200000, 1738886400000]},
          "axis": {"orient": "bottom", "title": null, "values": [1738627200000, 1738648800000, 1738670400000, 1738692000000, 1738713600000, 1738735200000, 1738756800000, 1738778400000, 1738800000000, 1738821600000, 1738843200000, 1738864800000, 1738886400000], "format": "%m/%d", "ticks": true, "tickSize": -6, "labelPadding": 15, "labelBaseline": "top", "labelFlush": false, "labelOverlap": false}},
        "y": {"datum": 57.5, "type": "quantitative",
          "scale": {"domain": [15, 65], "nice": false, "zero": false},
          "axis": {"orient": "left", "values": [15, 20, 25, 30, 35, 40, 45, 50, 55, 60, 65], "ticks": true, "tickSize": -6, "labelPadding": 13, "title": "degrees F", "titleAngle": 270, "titleX": -37, "titleY": 207, "titleBaseline": "middle", "titleAlign": "center"}},
        "y2": {"datum": 15}
      }
    },
    {
      "data": {"name": "sun"},
      "mark": {"type": "text", "angle": 270, "align": "left", "baseline": "middle", "font": "DejaVu Sans Mono", "fontSize": 10, "color": "black"},
      "encoding": {
        "x": {"field": "time", "type": "temporal", "axis": {"orient": "top", "title": null, "labels": false, "ticks": true, "values": [1738627200000, 1738648800000, 1738670400000, 1738692000000, 1738713600000, 1738735200000, 1738756800000, 1738778400000, 1738800000000, 1738821600000, 1738843200000, 1738864800000, 1738886400000], "tickSize": -6}},
        "y": {"datum": 58.5, "type": "quantitative", "axis": {"orient": "right", "title": null, "labels": false, "ticks": true, "values": [15, 20, 25, 30, 35, 40, 45, 50, 55, 60, 65], "tickSize": -6}},
        "text": {"field": "event"}
      }
    },
    {
      "data": {"name": "ana"},
      "mark": {"type": "line", "strokeWidth": 1},
      "encoding": {
        "x": {"field": "time", "type": "temporal", "axis": {"orient": "bottom", "title": null, "ticks": true, "values": [1738627200000, 1738634400000, 1738641600000, 1738648800000, 1738656000000, 1738663200000, 1738670400000, 1738677600000, 1738684800000, 1738692000000, 1738699200000, 1738706400000, 1738713600000, 1738720800000, 1738728000000, 1738735200000, 1738742400000, 1738749600000, 1738756800000, 1738764000000, 1738771200000, 1738778400000, 1738785600000, 1738792800000, 1738800000000, 1738807200000, 1738814400000, 1738821600000, 1738828800000, 1738836000000, 1738843200000, 1738850400000, 1738857600000, 1738864800000, 1738872000000, 1738879200000, 1738886400000], "labelExpr": "utchours(datum.value) % 6 == 0 ? utcFormat(datum.value, '%H:%M') : ''", "tickSize": -3, "labelPadding": 24.5, "labelBaseline": "top", "labelFlush": false, "labelOverlap": false}},
        "y": {"field": "temp", "type": "quantitative", "axis": null},
        "detail": {"field": "seg"},
        "color": {"field": "series", "type": "nominal",
          "scale": {"domain": ["G4003 Analysis", "G4003"], "range": ["#ff0000", "#0080ff"]},
          "legend": {"orient": "none", "legendX": 541, "legendY": 3, "title": null, "symbolType": "M-2,0H2", "symbolSize": 182, "symbolStrokeWidth": 1.3, "labelAlign": "right", "labelOffset": -29.5, "labelFont": "DejaVu Sans Mono", "labelFontSize": 10, "labelColor": "black", "rowPadding": -2, "padding": 0}}
      }
    },
    {
      "data": {"name": "obs"},
      "mark": {"type": "line", "strokeWidth": 1.5},
      "encoding": {
        "x": {"field": "time", "type": "temporal", "axis": {"orient": "top", "title": null, "labels": false, "ticks": true, "values": [1738627200000, 1738634400000, 1738641600000, 1738648800000, 1738656000000, 1738663200000, 1738670400000, 1738677600000, 1738684800000, 1738692000000, 1738699200000, 1738706400000, 1738713600000, 1738720800000, 1738728000000, 1738735200000, 1738742400000, 1738749600000, 1738756800000, 1738764000000, 1738771200000, 1738778400000, 1738785600000, 1738792800000, 1738800000000, 1738807200000, 1738814400000, 1738821600000, 1738828800000, 1738836000000, 1738843200000, 1738850400000, 1738857600000, 1738864800000, 1738872000000, 1738879200000, 1738886400000], "tickSize": -3}},
        "y": {"field": "temp", "type": "quantitative", "axis": null},
        "color": {"field": "series", "type": "nominal"}
      }
    }
  ],
  "resolve": {"axis": {"x": "independent", "y": "independent"}}
}
